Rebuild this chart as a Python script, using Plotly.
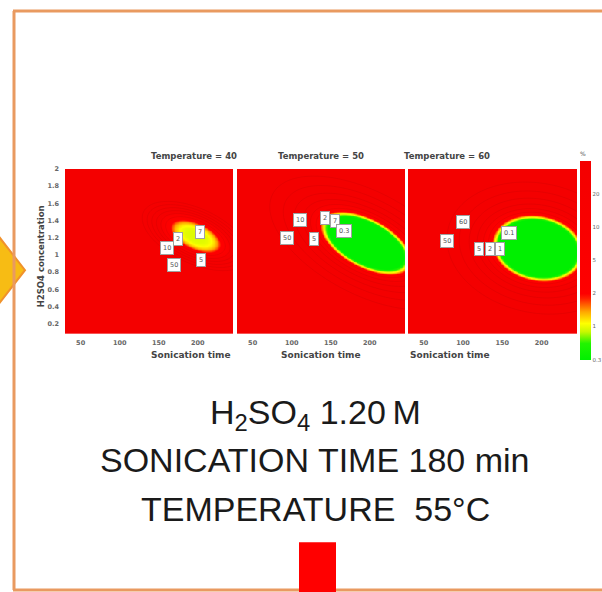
import numpy as np
import plotly.graph_objects as go

W, H = 602, 592

# ---------------- data ----------------
panel_titles = ["Temperature = 40", "Temperature = 50", "Temperature = 60"]
x_ticks = [50, 100, 150, 200]
y_ticks = [0.2, 0.4, 0.6, 0.8, 1.0, 1.2, 1.4, 1.6, 1.8, 2.0]
y_ticktext = ["0.2", "0.4", "0.6", "0.8", "1", "1.2", "1.4", "1.6", "1.8", "2"]
cbar_levels = [0, 1, 2, 3, 4, 5]
cbar_text = ["0.3", "1", "2", "5", "10", "20"]

# response-surface minima (centre, ellipse axes in px, tilt, level at centre)
surf_cx = [197, 195, 195]
surf_cy = [1.22, 1.14, 1.08]
surf_A = [27, 45, 42]
surf_B = [13, 22, 30]
surf_tilt = [-25, -28, -12]
surf_u0 = [0.95, -4.0, -5.0]
surf_edge = [2.0, 0.8, 0.8]   # level reached on the ellipse
surf_pow = [2.0, 1.0, 1.0]    # flatness of the bowl

# boxed point labels per panel
lab_text = [["7", "2", "10", "5", "50"],
            ["10", "2", "7", "0.3", "50", "5"],
            ["60", "50", "5", "2", "1", "0.1"]]
lab_x = [[203, 174, 161, 204, 169],
         [111, 143, 156, 167, 94, 129],
         [100, 80, 120, 134, 147, 159]]
lab_y = [[1.27, 1.18, 1.08, 0.94, 0.88],
         [1.41, 1.43, 1.40, 1.28, 1.20, 1.18],
         [1.38, 1.16, 1.07, 1.07, 1.07, 1.26]]

text_lines = ["H<sub>2</sub>SO<sub>4</sub> 1.20\u2009M",
              "SONICATION TIME 180 min",
              "TEMPERATURE\u00a0 55°C"]

# ---------------- layout geometry ----------------
X_RANGE = [30, 245]
Y_RANGE = [0.085, 2.0]
px_left = [65, 237, 408]
px_right = [233, 405, 577]
py_top, py_bot = 166, 332
SX = 168 / (X_RANGE[1] - X_RANGE[0])   # px per unit
SY = 166 / (Y_RANGE[1] - Y_RANGE[0])

def fx(px):
    return px / W

def fy(py):
    return 1 - py / H

SMALL = "DejaVu Sans"

xs = np.linspace(X_RANGE[0], X_RANGE[1], 220)
ys = np.linspace(Y_RANGE[0], Y_RANGE[1], 220)
XX, YY = np.meshgrid(xs, ys)

colorscale = [
    [0.0, "#00f000"],
    [0.5 / 6, "#22f400"],
    [0.85 / 6, "#c8f800"],
    [1.1 / 6, "#ffff00"],
    [1.45 / 6, "#ffa800"],
    [1.85 / 6, "#ff2200"],
    [2.0 / 6, "#fe0000"],
    [1.0, "#f40000"],
]

fig = go.Figure()

for i in range(3):
    dx = (XX - surf_cx[i]) * SX
    dy = (YY - surf_cy[i]) * SY
    t = np.deg2rad(surf_tilt[i])
    a = dx * np.cos(t) + dy * np.sin(t)
    b = -dx * np.sin(t) + dy * np.cos(t)
    r2 = (a / surf_A[i]) ** 2 + (b / surf_B[i]) ** 2
    u = surf_u0[i] + (surf_edge[i] - surf_u0[i]) * r2 ** surf_pow[i]
    xa = "x" if i == 0 else f"x{i+1}"
    ya = "y" if i == 0 else f"y{i+1}"
    fig.add_trace(go.Heatmap(x=xs, y=ys, z=np.clip(u, 0, 6), coloraxis="coloraxis",
                             zsmooth="best", xaxis=xa, yaxis=ya, hoverinfo="skip"))
    fig.add_trace(go.Contour(x=xs, y=ys, z=np.log(np.maximum(u, 0.01) + 1), xaxis=xa, yaxis=ya,
                             showscale=False,
                             contours=dict(coloring="none", start=1.4, end=3.2, size=0.35),
                             line=dict(color="rgba(150,0,0,0.12)", width=1),
                             hoverinfo="skip"))
    for tx, lx, ly in zip(lab_text[i], lab_x[i], lab_y[i]):
        fig.add_annotation(x=lx, y=ly, xref=xa, yref=ya, text=tx, showarrow=False,
                           bgcolor="white", bordercolor="#a0a0a0", borderwidth=1, borderpad=2,
                           font=dict(size=6.5, color="#555", family=SMALL))
    # panel title
    fig.add_annotation(x=fx((px_left[i] + px_right[i]) / 2), y=fy(146), xref="paper", yref="paper",
                       text="<b>" + panel_titles[i] + "</b>", showarrow=False,
                       font=dict(size=8.5, color="#444", family=SMALL))
    fig.add_annotation(x=fx((px_left[i] + px_right[i]) / 2), y=fy(353), xref="paper", yref="paper",
                       text="<b>Sonication time</b>", showarrow=False,
                       font=dict(size=9, color="#444", family=SMALL))

axis_font = dict(size=6.5, color="#666", family=SMALL, weight="bold")
for i in range(3):
    xk = "xaxis" if i == 0 else f"xaxis{i+1}"
    yk = "yaxis" if i == 0 else f"yaxis{i+1}"
    fig.layout[xk] = dict(domain=[fx(px_left[i]), fx(px_right[i])], range=X_RANGE,
                          tickvals=x_ticks, ticks="", showgrid=False, zeroline=False,
                          tickfont=axis_font, anchor="y" if i == 0 else f"y{i+1}",
                          ticklabelstandoff=4)
    fig.layout[yk] = dict(domain=[fy(py_bot), fy(py_top)], range=Y_RANGE,
                          tickvals=y_ticks, ticktext=y_ticktext, showticklabels=(i == 0),
                          ticks="", showgrid=False, zeroline=False, tickfont=axis_font,
                          anchor="x" if i == 0 else f"x{i+1}", ticklabelstandoff=5)

fig.add_annotation(x=fx(34), y=fy(254), xref="paper", yref="paper",
                   text="<b>H2SO4 concentration</b>", textangle=-90, showarrow=False,
                   font=dict(size=8.5, color="#444", family=SMALL))

fig.update_layout(
    width=W, height=H, margin=dict(l=0, r=0, t=0, b=0),
    paper_bgcolor="white", plot_bgcolor="white", showlegend=False,
    coloraxis=dict(
        colorscale=colorscale, cmin=0, cmax=6,
        colorbar=dict(x=fx(580), xanchor="left", xpad=0, y=fy(358), yanchor="bottom", ypad=0,
                      len=(358 - 146) / H, lenmode="fraction", thickness=11, thicknessmode="pixels",
                      outlinewidth=0, tickvals=cbar_levels, ticktext=cbar_text, ticks="",
                      tickfont=dict(size=5.5, color="#666", family=SMALL),
                      title=dict(text="%", side="top", font=dict(size=6, color="#555", family=SMALL))),
    ),
)

# big text lines
line_y = [437, 480, 530]
for txt, ly in zip(text_lines, line_y):
    fig.add_annotation(x=fx(315), y=fy(ly), xref="paper", yref="paper", text=txt,
                       showarrow=False, font=dict(size=34, color="#1a1a1a", family="Liberation Sans"))

ORANGE = "#e99a60"
shapes = [
    # left arrow
    dict(type="path", xref="paper", yref="paper",
         path=f"M {fx(-2)},{fy(233)} L {fx(25)},{fy(268)} L {fx(-2)},{fy(303)} Z",
         fillcolor="#f7bc14", line=dict(color="#f0922c", width=2), layer="above"),
    dict(type="line", xref="paper", yref="paper", x0=fx(14), x1=fx(14), y0=fy(7), y1=fy(590),
         line=dict(color=ORANGE, width=3), layer="above"),
    dict(type="line", xref="paper", yref="paper", x0=fx(13), x1=1.0, y0=fy(7), y1=fy(7),
         line=dict(color=ORANGE, width=3), layer="above"),
    dict(type="line", xref="paper", yref="paper", x0=fx(13), x1=1.0, y0=fy(590), y1=fy(590),
         line=dict(color=ORANGE, width=3), layer="above"),
    dict(type="rect", xref="paper", yref="paper", x0=fx(299), x1=fx(336), y0=fy(592), y1=fy(542),
         fillcolor="#ff0000", line=dict(width=0), layer="above"),
]
fig.update_layout(shapes=shapes)

fig.write_html("out.html")
